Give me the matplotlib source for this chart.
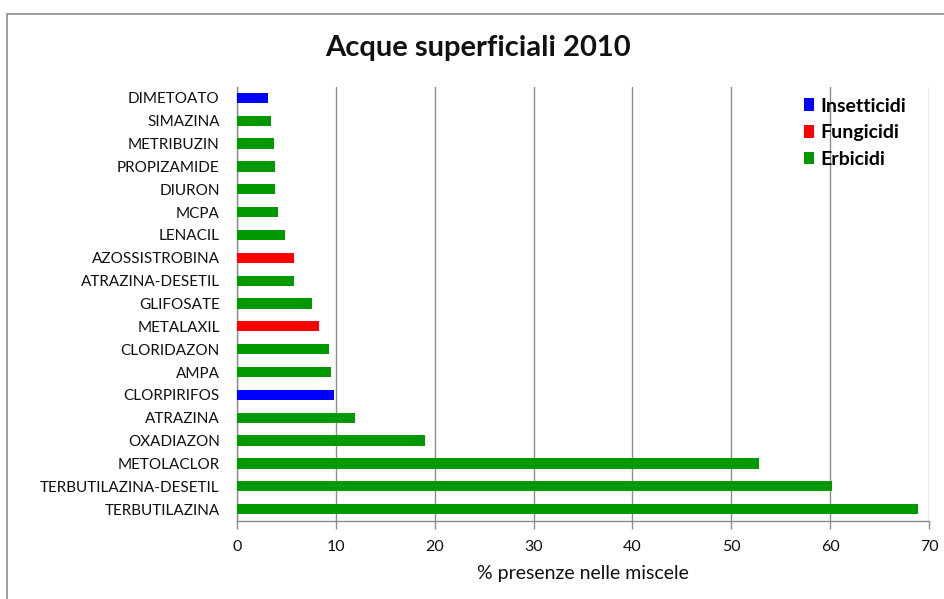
import matplotlib
matplotlib.use("Agg")
import matplotlib.pyplot as plt
from matplotlib.patches import Patch, Rectangle

# Active substances (top to bottom) and share of presence in mixtures (%)
substances = [
    "DIMETOATO", "SIMAZINA", "METRIBUZIN", "PROPIZAMIDE", "DIURON", "MCPA",
    "LENACIL", "AZOSSISTROBINA", "ATRAZINA-DESETIL", "GLIFOSATE", "METALAXIL",
    "CLORIDAZON", "AMPA", "CLORPIRIFOS", "ATRAZINA", "OXADIAZON",
    "METOLACLOR", "TERBUTILAZINA-DESETIL", "TERBUTILAZINA",
]
presence = [
    3.1, 3.4, 3.7, 3.85, 3.85, 4.15,
    4.9, 5.8, 5.8, 7.55, 8.3,
    9.3, 9.55, 9.8, 11.95, 19.0,
    52.8, 60.2, 68.9,
]
categories = [
    "Insetticidi", "Erbicidi", "Erbicidi", "Erbicidi", "Erbicidi", "Erbicidi",
    "Erbicidi", "Fungicidi", "Erbicidi", "Erbicidi", "Fungicidi",
    "Erbicidi", "Erbicidi", "Insetticidi", "Erbicidi", "Erbicidi",
    "Erbicidi", "Erbicidi", "Erbicidi",
]
legend_labels = ["Insetticidi", "Fungicidi", "Erbicidi"]
x_ticks = [0, 10, 20, 30, 40, 50, 60, 70]

palette = {"Insetticidi": "#0000FF", "Fungicidi": "#FF0000", "Erbicidi": "#009A00"}

plt.rcParams["font.family"] = ["Lato", "DejaVu Sans"]

W, H = 944, 599
fig = plt.figure(figsize=(W / 100, H / 100), dpi=100)
fig.patch.set_facecolor("white")

# outer chart-area frame
fig.patches.append(Rectangle((7 / W, -0.2), 1.2, 1.2 - 14 / H,
                             transform=fig.transFigure, fill=False,
                             edgecolor="#8c8c8c", linewidth=1.2))

left, right, top, bottom = 237, 929, 86.5, 520.5
ax = fig.add_axes([left / W, 1 - bottom / H, (right - left) / W, (bottom - top) / H])

ypos = list(range(len(substances)))
ax.barh(ypos, presence, height=0.45,
        color=[palette[c] for c in categories], zorder=3)

ax.set_ylim(len(substances) - 0.5, -0.5)
ax.set_yticks(ypos)
ax.set_yticklabels(substances, fontsize=11, color="#111111")
ax.tick_params(axis="y", length=0, pad=12.5)

ax.set_xlim(0, 70)
ax.set_xticks(x_ticks)
ax.set_xticklabels([str(t) for t in x_ticks], fontsize=11.5, color="#111111")
ax.tick_params(axis="x", length=6, width=1, color="#8c8c8c", pad=8, direction="out")

ax.grid(axis="x", color="#8c8c8c", linewidth=1, zorder=0)
for s in ["top", "right"]:
    ax.spines[s].set_visible(False)
for s in ["left", "bottom"]:
    ax.spines[s].set_color("#8c8c8c")
    ax.spines[s].set_linewidth(1)

ax.set_xlabel("% presenze nelle miscele", fontsize=14, labelpad=8, color="#111111")

fig.text(478 / W, 1 - 48 / H, "Acque superficiali 2010",
         ha="center", va="center", fontsize=21, fontweight="bold", color="#111111")

handles = [Patch(facecolor=palette[k], edgecolor="none") for k in legend_labels]
leg = fig.legend(handles, legend_labels, loc="upper left",
                 bbox_to_anchor=(786 / W, 1 - 80 / H), frameon=False,
                 handlelength=0.55, handleheight=0.6, handletextpad=0.3,
                 labelspacing=0.5, prop={"size": 14, "weight": "bold"})

fig.savefig("out.png", dpi=100, facecolor="white")
